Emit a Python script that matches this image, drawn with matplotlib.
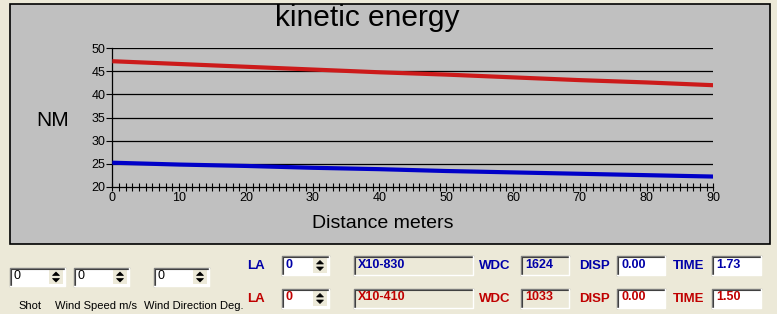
import matplotlib
matplotlib.use("Agg")
import matplotlib.pyplot as plt
from matplotlib.patches import Rectangle, Polygon
from matplotlib.ticker import MultipleLocator

# ---------------- data ----------------
distance = [0, 10, 20, 30, 40, 50, 60, 70, 80, 90]
energy_red = [47.2, 46.6, 46.0, 45.4, 44.8, 44.3, 43.7, 43.1, 42.6, 42.0]
energy_blue = [25.2, 24.8, 24.5, 24.1, 23.8, 23.4, 23.1, 22.8, 22.5, 22.2]
x_ticks = [0, 10, 20, 30, 40, 50, 60, 70, 80, 90]
y_ticks = [20, 25, 30, 35, 40, 45, 50]

title = "kinetic energy"
y_label = "NM"
x_label = "Distance meters"

left_spin_values = ["0", "0", "0"]
left_spin_labels = ["Shot", "Wind Speed m/s", "Wind Direction Deg."]
row_colors = ["#0000a8", "#c00000"]
row_la = ["0", "0"]
row_name = ["X10-830", "X10-410"]
row_wdc = ["1624", "1033"]
row_disp = ["0.00", "0.00"]
row_time = ["1.73", "1.50"]

# ---------------- figure ----------------
W, H = 777, 314
BG = "#ECE9D8"
PANEL = "#C0C0C0"
fig = plt.figure(figsize=(W / 100, H / 100), dpi=100, facecolor=BG)
font = ["Liberation Sans", "DejaVu Sans"]
plt.rcParams["font.family"] = font

bg = fig.add_axes([0, 0, 1, 1], zorder=0)
bg.set_xlim(0, W)
bg.set_ylim(H, 0)
bg.axis("off")

# chart panel
bg.add_patch(Rectangle((10, 4), 760, 240, facecolor=PANEL, edgecolor="black", lw=1.2))
bg.text(367, 18, title, fontsize=21.5, ha="center", va="center", color="black")
bg.text(53, 120, y_label, fontsize=15, ha="center", va="center", color="black")
bg.text(383, 224, x_label, fontsize=14, ha="center", va="center", color="black")

# chart axes
x0p, x1p, ytop, ybot = 112.3, 713.3, 48.3, 186.7
ax = fig.add_axes([x0p / W, 1 - ybot / H, (x1p - x0p) / W, (ybot - ytop) / H], zorder=1)
ax.set_facecolor("none")
ax.set_xlim(0, 90)
ax.set_ylim(20, 50)
for yv in y_ticks[1:]:
    ax.axhline(yv, color="black", lw=0.9, zorder=1)
ax.plot(distance, energy_red, color="#cc1a1a", lw=3.0, solid_capstyle="butt", zorder=3)
ax.plot(distance, energy_blue, color="#0000c8", lw=3.0, solid_capstyle="butt", zorder=3)
for s in ["top", "right"]:
    ax.spines[s].set_visible(False)
ax.spines["left"].set_linewidth(0.9)
ax.spines["bottom"].set_linewidth(0.9)
ax.set_xticks(x_ticks)
ax.set_yticks(y_ticks)
ax.xaxis.set_minor_locator(MultipleLocator(1))
ax.tick_params(axis="x", which="both", direction="inout", length=6, width=0.8, labelsize=9, pad=1)
ax.tick_params(axis="y", which="major", direction="out", length=4, width=0.8, labelsize=9, pad=1)
ax.tick_params(axis="x", which="minor", direction="inout", length=6, width=0.8)


# ---------------- widgets ----------------
def sunken(x, y, w, h, face):
    bg.add_patch(Rectangle((x, y), w, h, facecolor=face, edgecolor="none"))
    bg.plot([x, x, x + w], [y + h, y, y], color="#808080", lw=1.0)
    bg.plot([x + 1, x + 1, x + w - 1], [y + h - 1, y + 1, y + 1], color="#404040", lw=0.8)
    bg.plot([x, x + w, x + w], [y + h, y + h, y], color="white", lw=1.0)


def spin(x, y, w, h, text, color):
    sunken(x, y, w, h, "white")
    bx = x + w - 16
    bg.add_patch(Rectangle((bx, y + 2), 14, h - 4, facecolor=BG, edgecolor="none"))
    cx = bx + 7
    cy = y + h / 2
    bg.add_patch(Polygon([[cx - 3.5, cy - 1.5], [cx + 3.5, cy - 1.5], [cx, cy - 5]], closed=True,
                         facecolor="black", edgecolor="black", lw=0.5))
    bg.add_patch(Polygon([[cx - 3.5, cy + 1.5], [cx + 3.5, cy + 1.5], [cx, cy + 5]], closed=True,
                         facecolor="black", edgecolor="black", lw=0.5))
    bg.text(x + 4, y + h / 2 - 1, text, fontsize=9, color=color, ha="left", va="center",
            fontweight="bold" if color != "black" else "normal")


def field(x, y, w, h, text, color, face):
    sunken(x, y, w, h, face)
    bg.text(x + 4, y + h / 2 - 1, text, fontsize=9, color=color, ha="left", va="center",
            fontweight="bold")


# left spinboxes
spin_x = [10, 74, 154]
for sx, val in zip(spin_x, left_spin_values):
    spin(sx, 268, 55, 18, val, "black")
label_x = [30, 96, 194]
for lx, lab in zip(label_x, left_spin_labels):
    bg.text(lx, 306, lab, fontsize=8, ha="center", va="center", color="black")

row_y = [256, 289]
for i in range(2):
    y = row_y[i]
    c = row_colors[i]
    bg.text(256, y + 10, "LA", fontsize=9.5, color=c, fontweight="bold", ha="center", va="center")
    spin(282, y, 47, 19, row_la[i], c)
    field(354, y, 119, 19, row_name[i], c, BG)
    bg.text(495, y + 10, "WDC", fontsize=9.5, color=c, fontweight="bold", ha="center", va="center")
    field(521, y, 48, 19, row_wdc[i], c, BG)
    bg.text(594, y + 10, "DISP", fontsize=9.5, color=c, fontweight="bold", ha="center", va="center")
    field(617, y, 48, 19, row_disp[i], c, "white")
    bg.text(689, y + 10, "TIME", fontsize=9.5, color=c, fontweight="bold", ha="center", va="center")
    field(712, y, 49, 19, row_time[i], c, "white")

fig.savefig("out.png", dpi=100, facecolor=BG)
